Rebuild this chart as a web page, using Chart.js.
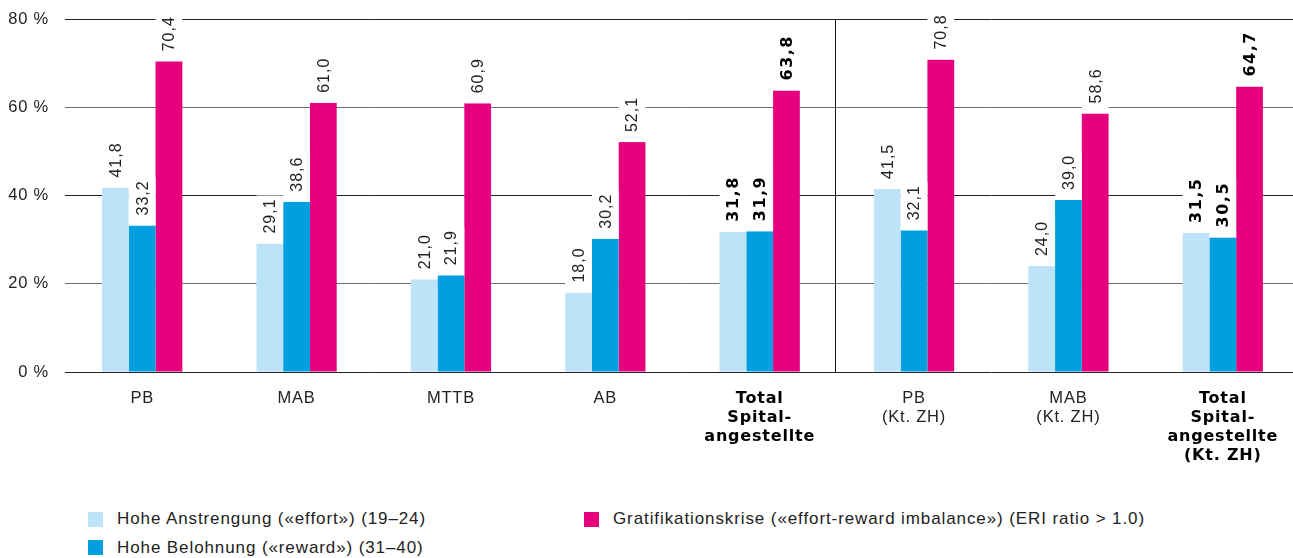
<!DOCTYPE html>
<html lang="de">
  <head>
    <meta charset="UTF-8" />
    <title>Effort-Reward</title>
    <style>
      html, body { margin: 0; padding: 0; background: #fff; overflow: hidden; }
      #wrap { position: relative; width: 1293px; height: 558px; overflow: hidden; }
      #chart { position: absolute; left: 0; top: 0; }
      #legend {
        position: absolute; left: 88px; top: 505px;
        display: grid; grid-template-columns: 496px auto; row-gap: 0;
        font-family: "Liberation Sans", Arial, sans-serif; font-size: 17px;
        letter-spacing: 0.9px; color: #222;
      }
      #legend .item { display: flex; align-items: center; height: 28.5px; }
      #legend .box { width: 15px; height: 15px; margin-right: 14px; flex: none; }
    </style>
  </head>
  <body>
    <div id="wrap">
      <canvas id="chart" width="1300" height="480"></canvas>
      <div id="legend"></div>
    </div>

    <script src="https://cdn.jsdelivr.net/npm/chart.js@4.4.1/dist/chart.umd.min.js"></script>
    <script>
      const categories = [
        ["PB"],
        ["MAB"],
        ["MTTB"],
        ["AB"],
        ["Total", "Spital-", "angestellte"],
        ["PB", "(Kt. ZH)"],
        ["MAB", "(Kt. ZH)"],
        ["Total", "Spital-", "angestellte", "(Kt. ZH)"],
      ];
      const boldCategories = [4, 7];
      const seriesNames = [
        "Hohe Anstrengung («effort») (19–24)",
        "Hohe Belohnung («reward») (31–40)",
        "Gratifikationskrise («effort-reward imbalance») (ERI ratio > 1.0)",
      ];
      const effort = [41.8, 29.1, 21.0, 18.0, 31.8, 41.5, 24.0, 31.5];
      const reward = [33.2, 38.6, 21.9, 30.2, 31.9, 32.1, 39.0, 30.5];
      const imbalance = [70.4, 61.0, 60.9, 52.1, 63.8, 70.8, 58.6, 64.7];
      const yTicks = [0, 20, 40, 60, 80];
      const colors = ["#bde3f8", "#009fe0", "#e6007e"];
      const legendOrder = [0, 2, 1];

      const regular = "'Liberation Sans', Arial, sans-serif";
      const heavy = "'DejaVu Sans', sans-serif";

      function fmt(v) {
        return v.toFixed(1).replace(".", ",");
      }

      // value labels, rotated, on a white strip so grid lines are cut
      const valueLabels = {
        id: "valueLabels",
        afterDatasetsDraw(chart) {
          const ctx = chart.ctx;
          chart.data.datasets.forEach((ds, i) => {
            chart.getDatasetMeta(i).data.forEach((bar, j) => {
              const bold = boldCategories.includes(j);
              const txt = fmt(ds.data[j]);
              ctx.save();
              ctx.font = bold ? "bold 16px " + heavy : "16px " + regular;
              ctx.letterSpacing = bold ? "1.5px" : "1px";
              const len = ctx.measureText(txt).width;
              const gap = 10;
              ctx.fillStyle = "#fff";
              ctx.fillRect(bar.x - bar.width / 2, bar.y - gap - len - 3, bar.width, len + gap + 3);
              ctx.translate(bar.x, bar.y - gap);
              ctx.rotate(-Math.PI / 2);
              ctx.fillStyle = bold ? "#000" : "#222";
              ctx.textAlign = "left";
              ctx.textBaseline = "middle";
              ctx.fillText(txt, 0, 1);
              ctx.restore();
            });
          });
        },
      };

      // separator between all-Swiss and Kt. ZH groups
      const separator = {
        id: "separator",
        afterDatasetsDraw(chart) {
          const x = chart.scales.x;
          const y = chart.scales.y;
          const px = Math.round((x.getPixelForValue(4) + x.getPixelForValue(5)) / 2 - 2) + 0.5;
          const ctx = chart.ctx;
          ctx.save();
          ctx.strokeStyle = "#111";
          ctx.lineWidth = 1;
          ctx.beginPath();
          ctx.moveTo(px, y.getPixelForValue(80));
          ctx.lineTo(px, y.getPixelForValue(0));
          ctx.stroke();
          ctx.restore();
        },
      };

      const spacing = {
        id: "spacing",
        beforeDraw(chart) {
          chart.ctx.letterSpacing = "0.8px";
        },
      };

      const chart = new Chart(document.getElementById("chart"), {
        type: "bar",
        data: {
          labels: categories,
          datasets: [effort, reward, imbalance].map((d, i) => ({
            label: seriesNames[i],
            data: d,
            backgroundColor: colors[i],
            borderWidth: 0,
            categoryPercentage: 0.52,
            barPercentage: 1,
          })),
        },
        options: {
          responsive: false,
          animation: false,
          layout: { padding: { top: 19, left: 0, right: 0, bottom: 0 } },
          plugins: {
            legend: { display: false },
            tooltip: { enabled: false },
          },
          scales: {
            x: {
              grid: { display: false },
              border: { display: false },
              afterFit(s) {
                s.height = 108;
              },
              ticks: {
                autoSkip: false,
                maxRotation: 0,
                padding: 9,
                color: (c) => (boldCategories.includes(c.index) ? "#000" : "#222"),
                font: (c) =>
                  boldCategories.includes(c.index)
                    ? { family: heavy, size: 16, weight: "bold", lineHeight: 1.19 }
                    : { family: regular, size: 16.5, lineHeight: 1.15 },
              },
            },
            y: {
              min: 0,
              max: 80,
              afterFit(s) {
                s.width = 65;
                s.paddingTop = 0;
                s.paddingBottom = 0;
              },
              afterBuildTicks(s) {
                s.ticks = yTicks.map((v) => ({ value: v }));
              },
              border: { display: false },
              grid: {
                drawTicks: false,
                lineWidth: 1,
                color: (c) => (c.tick && (c.tick.value === 60 || c.tick.value === 20) ? "#6e6e6e" : "#222"),
              },
              ticks: {
                padding: 16,
                color: "#222",
                font: { family: regular, size: 16.5 },
                callback: (v) => v + " %",
              },
            },
          },
        },
        plugins: [spacing, valueLabels, separator],
      });

      const legend = document.getElementById("legend");
      legendOrder.forEach((i) => {
        const item = document.createElement("div");
        item.className = "item";
        const box = document.createElement("span");
        box.className = "box";
        box.style.background = colors[i];
        const label = document.createElement("span");
        label.textContent = seriesNames[i];
        item.appendChild(box);
        item.appendChild(label);
        legend.appendChild(item);
      });
    </script>
  </body>
</html>
